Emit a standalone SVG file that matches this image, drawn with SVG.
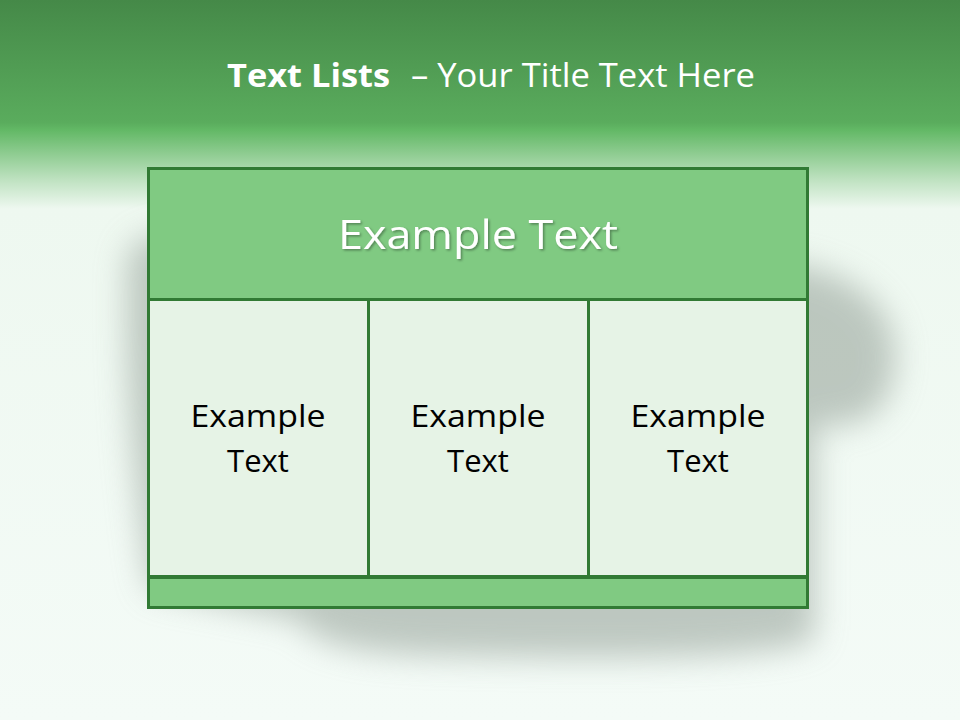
<svg xmlns="http://www.w3.org/2000/svg" width="960" height="720" viewBox="0 0 960 720">
<defs>
<linearGradient id="bg" x1="0" y1="0" x2="0" y2="1">
<stop offset="0" stop-color="#458948"/>
<stop offset="0.17" stop-color="#5aac5d"/>
<stop offset="0.18" stop-color="#62b865"/>
<stop offset="0.25" stop-color="#bfe2c1"/>
<stop offset="0.29" stop-color="#eef8f0"/>
<stop offset="1" stop-color="#f4fbf7"/>
</linearGradient>
<filter id="blur" x="-30%" y="-30%" width="160%" height="160%"><feGaussianBlur stdDeviation="16"/></filter>
<filter id="ts" x="-10%" y="-20%" width="120%" height="150%"><feDropShadow dx="1.5" dy="1.5" stdDeviation="1" flood-color="#000" flood-opacity="0.35"/></filter>
<style>
.box{stroke:#317a34;stroke-width:3}
.dark{fill:#80ca82}
.light{fill:#e6f3e6}
.cell{font-family:"Open Sans","Liberation Sans",sans-serif;font-size:31px;fill:#000;text-anchor:middle}
.ttl{font-family:"Open Sans","Liberation Sans",sans-serif;font-size:32px;fill:#fff}
</style>
</defs>
<rect width="960" height="720" fill="url(#bg)"/>
<g id="shadow" filter="url(#blur)" fill="#9aa69d" opacity="0.6">
<path d="M128 255 Q140 228 200 235 L800 265 Q885 285 895 345 Q900 415 845 425 L815 425 L815 640 Q760 665 420 655 Q310 650 300 620 L150 590 Q122 400 128 255 Z"/>
</g>
<rect x="148" y="168" width="660" height="440" fill="#f4fbf7"/>
<g id="title">
<text class="ttl" x="227" y="87" font-weight="bold" textLength="163" lengthAdjust="spacingAndGlyphs">Text Lists</text>
<text class="ttl" x="411" y="87" textLength="344" lengthAdjust="spacingAndGlyphs">– Your Title Text Here</text>
</g>
<g id="header">
<rect class="box dark" x="148.5" y="168.5" width="659" height="131"/>
<text x="478" y="249" text-anchor="middle" font-family="'Open Sans','Liberation Sans',sans-serif" font-size="41" fill="#fff" filter="url(#ts)" textLength="280" lengthAdjust="spacingAndGlyphs">Example Text</text>
</g>
<g id="col1">
<rect class="box light" x="148.5" y="299.5" width="220" height="277"/>
<text class="cell" x="258" y="427" textLength="135" lengthAdjust="spacingAndGlyphs">Example</text>
<text class="cell" x="258" y="472">Text</text>
</g>
<g id="col2">
<rect class="box light" x="368.5" y="299.5" width="220" height="277"/>
<text class="cell" x="478" y="427" textLength="135" lengthAdjust="spacingAndGlyphs">Example</text>
<text class="cell" x="478" y="472">Text</text>
</g>
<g id="col3">
<rect class="box light" x="588.5" y="299.5" width="219" height="277"/>
<text class="cell" x="698" y="427" textLength="135" lengthAdjust="spacingAndGlyphs">Example</text>
<text class="cell" x="698" y="472">Text</text>
</g>
<g id="footer">
<rect class="box dark" x="148.5" y="577.5" width="659" height="30"/>
</g>
<g id="connectors"/>
</svg>
